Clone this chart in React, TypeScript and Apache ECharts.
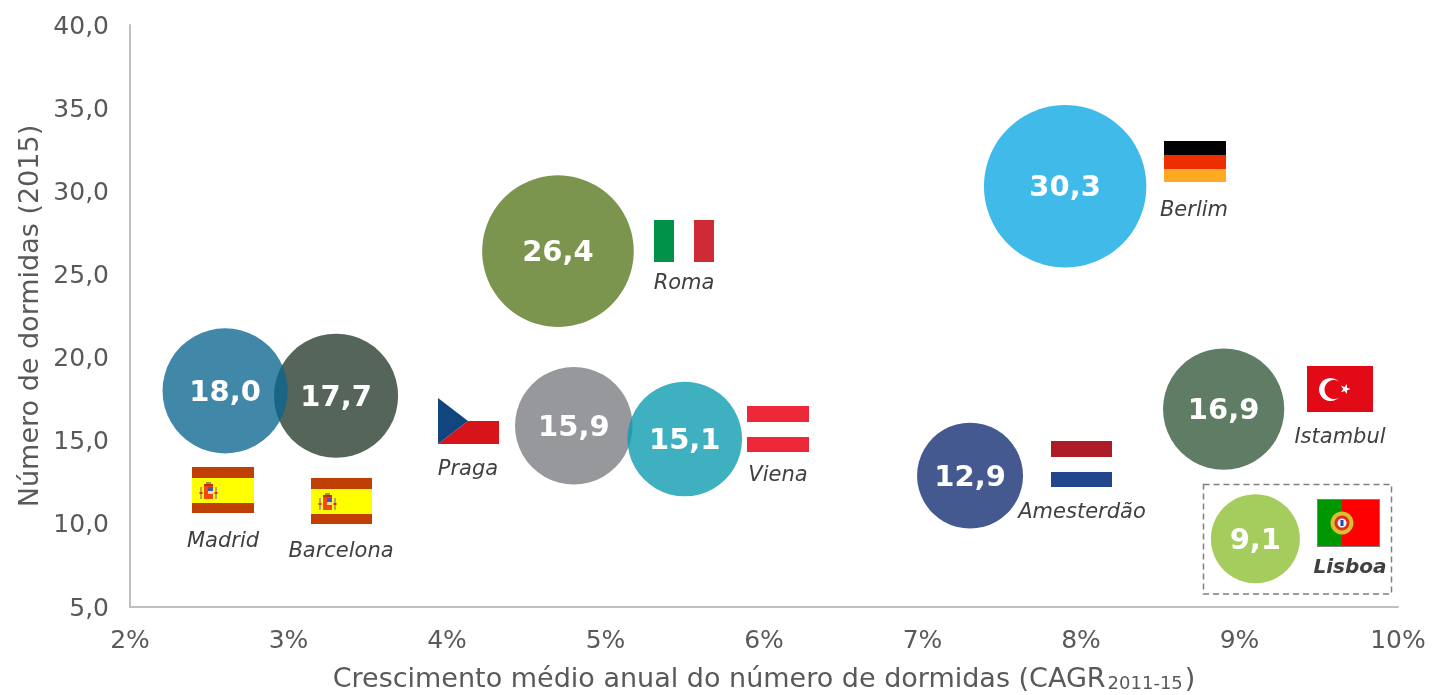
import React, { useEffect, useRef } from "react";
import * as echarts from "echarts";

const cities = ["Barcelona", "Madrid", "Praga", "Viena", "Roma", "Berlim", "Amesterdão", "Istambul", "Lisboa"];
const growth = [3.3, 2.6, 4.8, 5.5, 4.7, 7.9, 7.3, 8.9, 9.1];
const nights = [17.7, 18.0, 15.9, 15.1, 26.4, 30.3, 12.9, 16.9, 9.1];
const colors = ["#55655A", "rgba(10,101,144,0.78)", "#97989C", "rgba(12,155,175,0.79)", "#7C954E", "#40BAE8", "#44598F", "#5F7D65", "#A5CD5E"];
const xTicks = { min: 2, max: 10, interval: 1 };
const yTicks = { min: 5, max: 40, interval: 5 };
const comma = (v: number) => v.toFixed(1).replace(".", ",");

const rect = (x: number, y: number, w: number, h: number, fill: string) => ({
  type: "rect", silent: true, shape: { x, y, width: w, height: h }, style: { fill },
});
const circ = (cx: number, cy: number, r: number, fill: string) => ({
  type: "circle", silent: true, shape: { cx, cy, r }, style: { fill },
});
const label = (text: string, cx: number, cy: number, bold = false) => ({
  type: "text", silent: true, x: cx, y: cy,
  style: {
    text, fill: "#404040", align: "center", verticalAlign: "middle",
    font: `italic ${bold ? "bold 20" : "21"}px "DejaVu Sans"`,
  },
});
const spain = (x: number, y: number, w: number) => [
  rect(x, y, w, 46, "#BF3F04"),
  rect(x, y + 11, w, 25, "#FFFF00"),
  rect(x + 8, y + 20, 2, 12, "#B8A070"),
  rect(x + 23, y + 20, 2, 12, "#B8A070"),
  rect(x + 7.5, y + 25, 3, 2, "#E03010"),
  rect(x + 22.5, y + 25, 3, 2, "#E03010"),
  rect(x + 12, y + 19, 9, 13, "#F04A0C"),
  rect(x + 12, y + 17, 9, 2, "#C03010"),
  rect(x + 16, y + 20, 5, 4, "#4A5AA0"),
  rect(x + 16, y + 24, 5, 3, "#F4D0B0"),
  rect(x + 14, y + 15, 5, 2, "#A89048"),
];
const star = [
  [1350.5, 389], [1347, 390.2], [1346.8, 394], [1344.6, 391], [1341, 392.2],
  [1343.2, 389], [1341, 385.8], [1344.6, 387], [1346.8, 384], [1347, 387.8],
];
const flags = [
  ...spain(192, 467, 62),
  ...spain(311, 478, 61),
  { type: "polygon", silent: true, shape: { points: [[438, 444], [468, 421], [499, 421], [499, 444]] }, style: { fill: "#D7141A" } },
  { type: "polygon", silent: true, shape: { points: [[438, 398], [468, 421], [438, 444]] }, style: { fill: "#11457E" } },
  rect(654, 220, 20, 42, "#009246"),
  rect(694, 220, 20, 42, "#CE2B37"),
  rect(1164, 141, 62, 14, "#000000"),
  rect(1164, 155, 62, 14, "#EE2E00"),
  rect(1164, 169, 62, 13, "#FFAA22"),
  rect(747, 406, 62, 16, "#ED2939"),
  rect(747, 437, 62, 15, "#ED2939"),
  rect(1051, 441, 61, 16, "#AE1C28"),
  rect(1051, 472, 61, 15, "#21468B"),
  rect(1307, 366, 66, 46, "#E30A17"),
  circ(1330.5, 389.5, 11.5, "#FFFFFF"),
  circ(1334, 389.5, 9.5, "#E30A17"),
  { type: "polygon", silent: true, shape: { points: star }, style: { fill: "#FFFFFF" } },
  rect(1317, 499, 63, 48, "#808080"),
  rect(1318, 500, 25, 46, "#009600"),
  rect(1342, 500, 37, 46, "#FF0000"),
  circ(1342, 523, 11.5, "#D8C030"),
  circ(1342, 523, 7.5, "#E03020"),
  circ(1342, 523, 4.5, "#F0F4FF"),
  rect(1340.5, 520, 3, 6, "#2848B0"),
];
const box = {
  type: "rect", silent: true, shape: { x: 1203.5, y: 484.5, width: 188, height: 109.5 },
  style: { fill: "none", stroke: "#7F7F7F", lineWidth: 1.5, lineDash: [6, 4] },
};
const cityLabels = [
  label("Madrid", 223, 540), label("Barcelona", 341, 550), label("Praga", 468, 468),
  label("Roma", 684, 282), label("Berlim", 1194, 209), label("Viena", 778, 474),
  label("Amesterdão", 1082, 511), label("Istambul", 1340, 436), label("Lisboa", 1350, 566, true),
];

export default function App() {
  const ref = useRef<HTMLDivElement>(null);
  useEffect(() => {
    document.body.style.margin = "0";
    const chart = echarts.init(ref.current!, null, { renderer: "svg" });
    chart.setOption({
      animation: false,
      textStyle: { fontFamily: "DejaVu Sans" },
      grid: { left: 130, right: 34, top: 25, height: 582, containLabel: false, outerBoundsMode: "none" },
      xAxis: {
        type: "value", ...xTicks,
        axisLine: { show: true, onZero: false, lineStyle: { color: "#BFBFBF", width: 2 } },
        axisTick: { show: false }, splitLine: { show: false },
        axisLabel: { color: "#595959", fontSize: 25, margin: 20, formatter: (v: number) => `${v}%`, hideOverlap: false },
        name: "Crescimento médio anual do número de dormidas (CAGR{sub|2011-15})",
        nameLocation: "middle", nameGap: 56,
        nameTextStyle: {
          color: "#595959", fontSize: 27,
          rich: { sub: { fontSize: 18, color: "#595959", verticalAlign: "bottom", padding: [10, 2, 0, 2] } },
        },
      },
      yAxis: {
        type: "value", ...yTicks,
        axisLine: { show: true, onZero: false, lineStyle: { color: "#BFBFBF", width: 2 } },
        axisTick: { show: false }, splitLine: { show: false },
        axisLabel: { color: "#595959", fontSize: 25, margin: 21, formatter: comma },
        name: "Número de dormidas (2015)",
        nameLocation: "middle", nameGap: 87,
        nameTextStyle: { color: "#595959", fontSize: 27 },
      },
      series: [{
        type: "scatter",
        data: cities.map((name, i) => ({
          name, value: [growth[i], nights[i]],
          itemStyle: { color: colors[i], opacity: 1 },
        })),
        symbolSize: (v: number[]) => 29.5 * Math.sqrt(v[1]),
        label: {
          show: true, position: "inside", color: "#FFFFFF", fontWeight: "bold", fontSize: 29,
          fontFamily: "DejaVu Sans", formatter: (p: any) => comma(p.value[1]),
        },
        emphasis: { disabled: true },
      }],
      graphic: [{ type: "group", silent: true, children: [...flags, box, ...cityLabels] }],
    });
    return () => chart.dispose();
  }, []);
  return <div ref={ref} style={{ position: "fixed", left: 0, top: 0, width: 1432, height: 695 }} />;
}
